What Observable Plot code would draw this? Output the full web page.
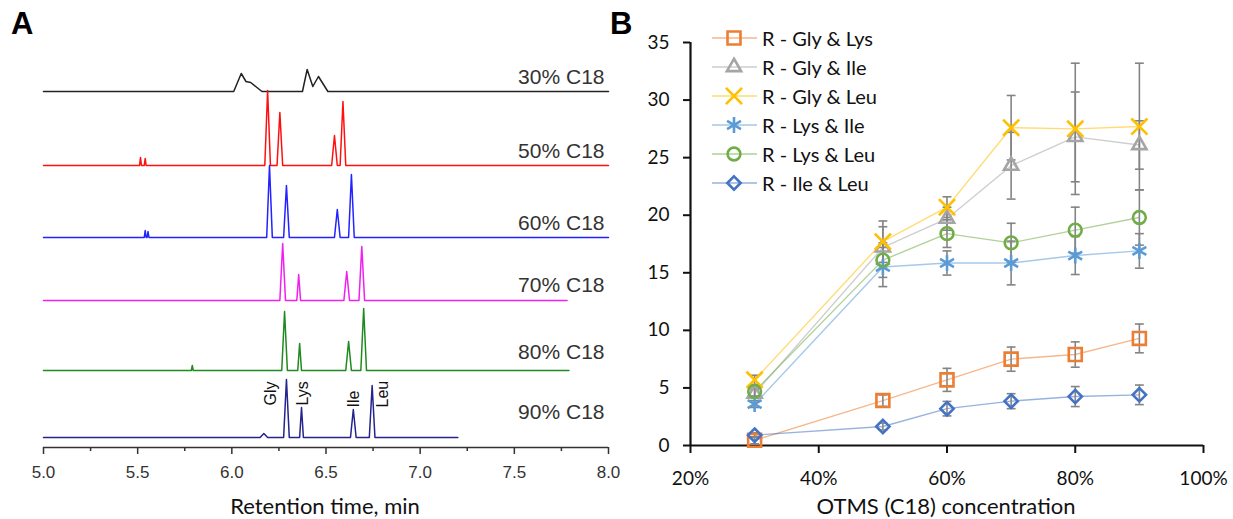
<!DOCTYPE html>
<html><head><meta charset="utf-8">
<script src="https://cdn.jsdelivr.net/npm/d3@7"></script>
<script src="https://cdn.jsdelivr.net/npm/@observablehq/plot@0.6"></script>
<style>
body{margin:0;background:#fff;}
#root{position:relative;width:1233px;height:519px;overflow:hidden;background:#fff;}
.abs{position:absolute;}
.title{font-family:Lato,sans-serif;font-size:22px;color:#111;white-space:nowrap;transform:translate(-50%,-50%);}
.panel{font-family:"Liberation Sans",Arial,sans-serif;font-weight:bold;font-size:31px;color:#000;line-height:1;}
</style></head><body><div id="root"></div>
<script>
// ---------- Panel A: chromatograms (retention time [min], intensity [a.u.]) ----------
const traceNames = ["30% C18","50% C18","60% C18","70% C18","80% C18","90% C18"];
const traceOffsets = [356, 282, 210, 147, 77, 10];
const traceLabelY = [370, 296, 224, 162, 95, 35];
const trace30 = [[5.0,0],[6.01,0],[6.05,18],[6.075,10],[6.10,9],[6.16,0],[6.375,0],[6.40,22],[6.43,5],[6.46,15],[6.51,0],[8.0,0]];
const trace50 = [[5.0,0],[5.51,0],[5.515,8],[5.52,0],[5.535,0],[5.54,7],[5.545,0],[6.175,0],[6.19,75],[6.205,0],[6.24,0],[6.255,53],[6.27,0],[6.53,0],[6.545,30],[6.56,0],[6.575,0],[6.59,64],[6.605,0],[8.0,0]];
const trace60 = [[5.0,0],[5.535,0],[5.54,7],[5.545,0],[5.55,0],[5.555,6],[5.56,0],[6.185,0],[6.20,72],[6.215,0],[6.275,0],[6.29,52],[6.305,0],[6.545,0],[6.56,28],[6.575,0],[6.62,0],[6.635,63],[6.65,0],[8.0,0]];
const trace70 = [[5.0,0],[6.255,0],[6.27,57],[6.285,0],[6.345,0],[6.355,26],[6.365,0],[6.595,0],[6.61,29],[6.625,0],[6.675,0],[6.69,54],[6.705,0],[7.78,0]];
const trace80 = [[5.0,0],[5.785,0],[5.79,5],[5.795,0],[6.265,0],[6.28,59],[6.295,0],[6.35,0],[6.36,27],[6.37,0],[6.605,0],[6.62,29],[6.635,0],[6.685,0],[6.70,62],[6.715,0],[7.79,0]];
const trace90 = [[5.0,0],[6.15,0],[6.17,4],[6.19,0],[6.275,0],[6.29,58],[6.305,0],[6.36,0],[6.37,30],[6.38,0],[6.63,0],[6.645,28],[6.66,0],[6.73,0],[6.745,52],[6.76,0],[7.2,0]];
const traces = [trace30, trace50, trace60, trace70, trace80, trace90];
const aminoNames = ["Gly","Lys","Ile","Leu"];
const aminoLabelTimes = [6.205, 6.375, 6.646, 6.80];
const aminoLabelBase = [42, 42, 40, 40];
const xTicksMajorA = [5.0,5.5,6.0,6.5,7.0,7.5,8.0];
const xTicksMinorA = [5.25,5.75,6.25,6.75,7.25,7.75];

// ---------- Panel B: resolution vs OTMS concentration ----------
const concentrations = [0.3,0.5,0.6,0.7,0.8,0.9];
const seriesNames = ["R - Gly & Lys","R - Gly & Ile","R - Gly & Leu","R - Lys & Ile","R - Lys & Leu","R - Ile & Leu"];
const rGlyLys = [0.45,3.9,5.7,7.5,7.9,9.3];
const rGlyLysErr = [0.3,0.5,1.0,1.05,1.1,1.25];
const rGlyIle = [4.5,17.2,19.7,24.3,26.8,26.1];
const rGlyIleErr = [0.4,1.8,1.0,2.9,3.9,2.1];
const rGlyLeu = [5.7,17.7,20.7,27.6,27.5,27.7];
const rGlyLeuErr = [0.4,1.8,0.9,2.8,5.7,5.5];
const rLysIle = [3.6,15.5,15.85,15.85,16.5,16.9];
const rLysIleErr = [0.3,1.7,1.05,1.9,1.65,1.5];
const rLysLeu = [4.7,16.1,18.4,17.6,18.7,19.8];
const rLysLeuErr = [0.4,1.5,1.2,1.7,2.0,2.4];
const rIleLeu = [0.9,1.65,3.2,3.85,4.25,4.4];
const rIleLeuErr = [0.2,0.3,0.63,0.65,0.87,0.85];
const seriesValues = [rGlyLys, rGlyIle, rGlyLeu, rLysIle, rLysLeu, rIleLeu];
const seriesErrors = [rGlyLysErr, rGlyIleErr, rGlyLeuErr, rLysIleErr, rLysLeuErr, rIleLeuErr];
const yTicksB = [0,5,10,15,20,25,30,35];
const xTicksB = [0.2,0.4,0.6,0.8,1.0];

// ---------- styles ----------
const traceColors = ["#222222","#ff1010","#2323ff","#f020f0","#1f8a1f","#24248c"];
const seriesColors = ["#ED7D31","#A5A5A5","#FFC000","#5B9BD5","#70AD47","#4472C4"];
const seriesSymbols = ["square","triangle2","times","asterisk","circle","diamond2"];
const d3Symbols = [d3.symbolSquare, d3.symbolTriangle2, d3.symbolTimes, d3.symbolAsterisk, d3.symbolCircle, d3.symbolDiamond2];
const seriesR = [7.3, 6.8, 7.4, 7.6, 6.4, 6.0];

const root = document.getElementById("root");

// ----- Panel A -----
const rowsA = traces.flatMap((pts, i) => pts.map(([t, v]) => ({name: traceNames[i], t, y: v + traceOffsets[i]})));
const plotA = Plot.plot({
  width: 620, height: 519, marginLeft: 43, marginRight: 12, marginTop: 0, marginBottom: 72,
  x: {domain: [5, 8]},
  y: {domain: [0, 447], axis: null},
  color: {domain: traceNames, range: traceColors},
  style: {fontFamily: "'Liberation Sans', Arial, sans-serif", fontSize: "17px", color: "#333", background: "transparent", overflow: "visible"},
  marks: [
    Plot.line(rowsA, {x: "t", y: "y", z: "name", stroke: "name", strokeWidth: 1.5}),
    Plot.ruleY([0], {stroke: "#333", strokeWidth: 1.5}),
    Plot.axisX({ticks: xTicksMinorA, tickSize: 4, tickFormat: () => "", stroke: "#333", strokeWidth: 1.5, label: null}),
    Plot.axisX({ticks: xTicksMajorA, tickSize: 7, tickPadding: 11, tickFormat: d3.format(".1f"), stroke: "#333", strokeWidth: 1.5, fill: "#333", label: null}),
    Plot.text(traceNames, {frameAnchor: "right", dx: -4, y: (d, i) => traceLabelY[i], text: d => d, textAnchor: "end", fontSize: 21, fill: "#333"}),
    Plot.text(aminoNames, {x: (d, i) => aminoLabelTimes[i], y: (d, i) => aminoLabelBase[i], text: d => d, rotate: -90, textAnchor: "start", fontSize: 16, fill: "#111"})
  ]
});
const wrapA = document.createElement("div");
wrapA.className = "abs"; wrapA.style.left = "0px"; wrapA.style.top = "0px";
wrapA.appendChild(plotA);
root.appendChild(wrapA);

// ----- Panel B -----
const rowsB = seriesNames.flatMap((name, i) => concentrations.map((x, j) => ({name, x, v: seriesValues[i][j], e: seriesErrors[i][j]})));
const capSymbol = {draw(ctx, size) { const w = Math.sqrt(size) / 2; ctx.moveTo(-w, 0); ctx.lineTo(w, 0); }};
const plotB = Plot.plot({
  width: 613, height: 519, marginLeft: 70, marginRight: 30, marginTop: 42, marginBottom: 74,
  x: {domain: [0.2, 1.0]},
  y: {domain: [0, 35]},
  color: {domain: seriesNames, range: seriesColors},
  style: {fontFamily: "Lato, sans-serif", fontSize: "19px", color: "#111", background: "transparent", overflow: "visible"},
  marks: [
    Plot.axisY({ticks: yTicksB, tickSize: 7, tickPadding: 14, stroke: "#111", strokeWidth: 2, fill: "#111", label: null}),
    Plot.axisX({ticks: xTicksB, tickSize: 8, tickPadding: 18, tickFormat: d3.format(".0%"), stroke: "#111", strokeWidth: 2, fill: "#111", label: null}),
    Plot.ruleX([0.2], {stroke: "#111", strokeWidth: 2.2}),
    Plot.ruleY([0], {stroke: "#111", strokeWidth: 2.2}),
    Plot.line(rowsB, {x: "x", y: "v", z: "name", stroke: "name", strokeWidth: 1.4, strokeOpacity: 0.55}),
    Plot.ruleX(rowsB, {x: "x", y1: d => d.v - d.e, y2: d => d.v + d.e, stroke: "#848484", strokeWidth: 1.6}),
    Plot.dot(rowsB, {x: "x", y: d => d.v + d.e, symbol: capSymbol, r: 5, fill: "none", stroke: "#848484", strokeWidth: 1.6}),
    Plot.dot(rowsB, {x: "x", y: d => d.v - d.e, symbol: capSymbol, r: 5, fill: "none", stroke: "#848484", strokeWidth: 1.6}),
    ...seriesNames.map((n, i) => Plot.dot(rowsB.filter(d => d.name === n), {x: "x", y: "v", symbol: seriesSymbols[i], r: seriesR[i], fill: "none", stroke: seriesColors[i], strokeWidth: 2.6}))
  ]
});
const wrapB = document.createElement("div");
wrapB.className = "abs"; wrapB.style.left = "620px"; wrapB.style.top = "0px";
wrapB.appendChild(plotB);
root.appendChild(wrapB);

// ----- Legend for panel B -----
const legend = d3.select(root).append("div").attr("class", "abs").style("left", "712px").style("top", "23px");
seriesNames.forEach((n, i) => {
  const row = legend.append("div").style("height", "29px").style("display", "flex").style("align-items", "center");
  const svg = row.append("svg").attr("width", 50).attr("height", 24).style("overflow", "visible");
  svg.append("line").attr("x1", 0).attr("x2", 45).attr("y1", 12).attr("y2", 12)
    .attr("stroke", seriesColors[i]).attr("stroke-opacity", 0.55).attr("stroke-width", 1.4);
  svg.append("path").attr("transform", "translate(22,12)")
    .attr("d", d3.symbol(d3Symbols[i], Math.PI * seriesR[i] * seriesR[i])())
    .attr("fill", "none").attr("stroke", seriesColors[i]).attr("stroke-width", 2.6);
  row.append("span").text(n).style("font-family", "Lato, sans-serif").style("font-size", "20px").style("color", "#111").style("white-space", "nowrap");
});

// ----- Titles and panel letters -----
function addText(cls, text, left, top) {
  const d = document.createElement("div");
  d.className = "abs " + cls; d.textContent = text;
  d.style.left = left + "px"; d.style.top = top + "px";
  root.appendChild(d);
}
addText("title", "Retention time, min", 325, 505);
addText("title", "OTMS (C18) concentration", 946, 505);
addText("panel", "A", 11, 8);
addText("panel", "B", 610, 8);
</script>
</body></html>
